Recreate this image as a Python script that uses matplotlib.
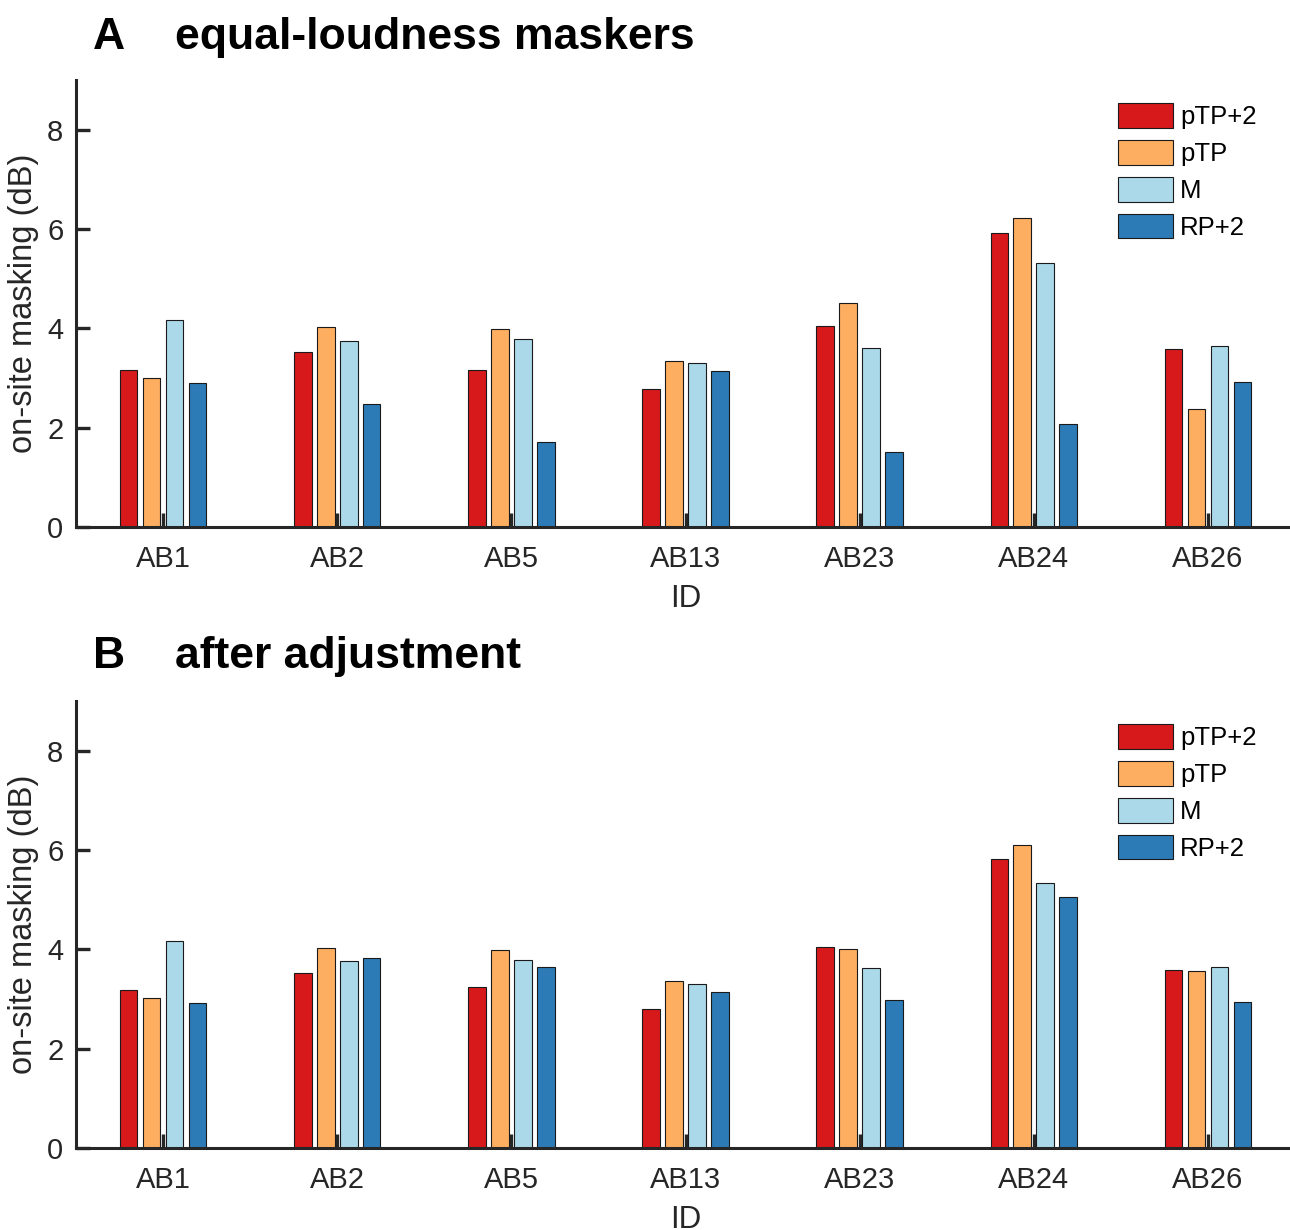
import numpy as np
import matplotlib
matplotlib.use("Agg")
import matplotlib.pyplot as plt

plt.rcParams['font.family'] = ['Liberation Sans', 'DejaVu Sans']

# ============================================================
# DATA
# ============================================================

ids = ["AB1", "AB2", "AB5", "AB13", "AB23", "AB24", "AB26"]
conditions = ["pTP+2", "pTP", "M", "RP+2"]
colors = ["#D7191C", "#FDAE61", "#ABD9E9", "#2C7BB6"]

# panel A: equal-loudness maskers
a_ptp2 = [3.17, 3.52, 3.16, 2.78, 4.04, 5.91, 3.58]
a_ptp = [3.01, 4.02, 3.98, 3.35, 4.52, 6.22, 2.37]
a_m = [4.17, 3.75, 3.78, 3.30, 3.61, 5.32, 3.64]
a_rp2 = [2.90, 2.48, 1.71, 3.14, 1.52, 2.07, 2.91]

# panel B: after adjustment
b_ptp2 = [3.18, 3.52, 3.25, 2.79, 4.05, 5.82, 3.58]
b_ptp = [3.02, 4.03, 3.98, 3.36, 4.00, 6.10, 3.57]
b_m = [4.17, 3.76, 3.78, 3.31, 3.62, 5.33, 3.64]
b_rp2 = [2.91, 3.82, 3.64, 3.14, 2.97, 5.05, 2.93]

panels = [
    ("A", "equal-loudness maskers", [a_ptp2, a_ptp, a_m, a_rp2]),
    ("B", "after adjustment", [b_ptp2, b_ptp, b_m, b_rp2]),
]

# ============================================================
# FIGURE
# ============================================================

fig = plt.figure(figsize=(12.9, 12.3), dpi=100)
ax_rects = [
    [76 / 1290, 1 - 527 / 1230, 1219 / 1290, 447 / 1230],
    [76 / 1290, 1 - 1148 / 1230, 1219 / 1290, 447 / 1230],
]
title_y = [1 - 49 / 1230, 1 - 668 / 1230]

x = np.arange(1, len(ids) + 1)
step = 0.132
width = 0.101
dark = "#262626"

for (letter, title, series), rect, ty in zip(panels, ax_rects, title_y):
    ax = fig.add_axes(rect)
    for i, (vals, c, lab) in enumerate(zip(series, colors, conditions)):
        ax.bar(x + (i - 1.5) * step, vals, width, color=c, edgecolor="#1a1a1a",
               linewidth=0.8, label=lab, zorder=2)

    ax.set_xlim(0.5, 7.5)
    ax.set_ylim(0, 9)
    ax.set_xticks(x)
    ax.set_xticklabels(ids)
    ax.set_yticks([0, 2, 4, 6, 8])
    ax.tick_params(axis="both", direction="in", length=10, width=2.4,
                   colors=dark, labelsize=21, labelcolor=dark)
    ax.tick_params(axis="y", pad=9)
    ax.tick_params(axis="x", pad=13)
    for side in ["top", "right"]:
        ax.spines[side].set_visible(False)
    for side in ["left", "bottom"]:
        ax.spines[side].set_linewidth(2.2)
        ax.spines[side].set_color(dark)
        ax.spines[side].set_zorder(3)

    ax.set_xlabel("ID", fontsize=22.5, color=dark, labelpad=8)
    ax.set_ylabel("on-site masking (dB)", fontsize=23.5, color=dark, labelpad=6)

    leg = ax.legend(loc="upper left", bbox_to_anchor=(0.855, 0.948),
                    frameon=False, fontsize=18.5, borderpad=0, borderaxespad=0,
                    handlelength=2.15, handleheight=1.1, handletextpad=0.25,
                    labelspacing=0.42)

    fig.text(93 / 1290, ty, letter, fontsize=32, fontweight="bold",
             ha="left", va="baseline")
    fig.text(175 / 1290, ty, title, fontsize=32, fontweight="bold",
             ha="left", va="baseline")

plt.savefig("out.png", dpi=100)
plt.close()
